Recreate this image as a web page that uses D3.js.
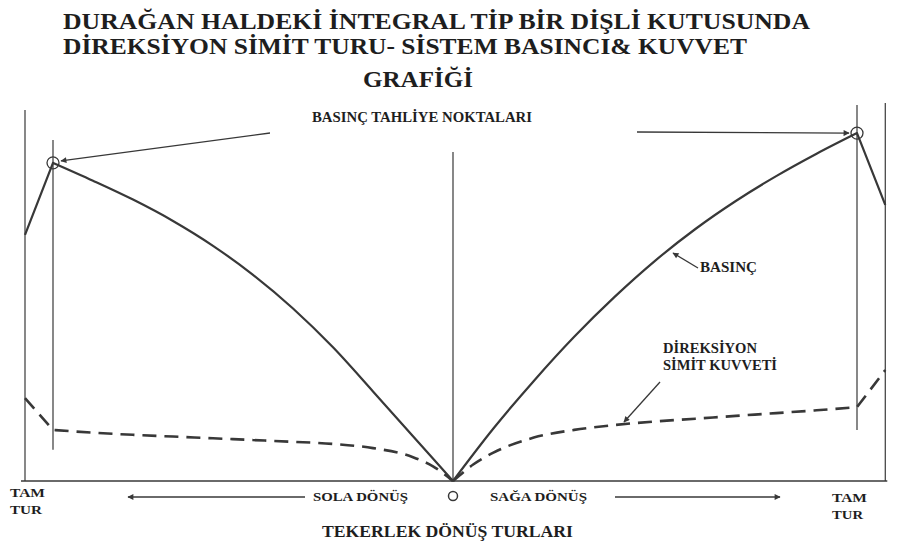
<!DOCTYPE html>
<html>
<head>
    <meta charset="utf-8">
    <title>Direksiyon simit turu - sistem basıncı & kuvvet</title>
    <script src="https://d3js.org/d3.v7.min.js"></script>
    <style>
        body { margin: 0; background: #fff; }
        svg text { font-family: "Liberation Serif", "Times New Roman", serif; font-weight: bold; fill: #1e1e1e; }
    </style>
</head>
<body>
<svg id="chart" width="904" height="548"></svg>
<script>
    // steering wheel turns (left = negative) and readings, 0-100 scale
    const leftTurns = [-1.07, -1, -0.9, -0.8, -0.7, -0.6, -0.5, -0.4, -0.3, -0.2, -0.1, 0];
    const leftPressure = [70.3, 90.9, 85.8, 80.4, 74.3, 67.2, 58.9, 49.3, 38.2, 25.6, 12.8, 0];
    const rightTurns = [0, 0.1, 0.2, 0.3, 0.4, 0.5, 0.6, 0.7, 0.8, 0.9, 1, 1.07];
    const rightPressure = [0, 15.0, 28.6, 41.2, 52.6, 62.9, 72.0, 80.0, 87.1, 93.5, 99.4, 78.9];

    const leftForceTurns = [-1.07, -1, -0.9, -0.8, -0.7, -0.6, -0.5, -0.4, -0.3, -0.2, -0.1, -0.05, 0];
    const leftForce = [23.7, 14.6, 13.8, 13.2, 12.7, 12.2, 11.7, 11.2, 10.6, 9.4, 6.8, 4.2, 0];
    const rightForceTurns = [0, 0.05, 0.1, 0.2, 0.3, 0.4, 0.5, 0.6, 0.7, 0.8, 0.9, 1, 1.07];
    const rightForce = [0, 4.7, 8.1, 12.4, 14.6, 16.0, 17.0, 17.8, 18.6, 19.4, 20.2, 21.1, 31.7];

    // relief points (pressure peaks)
    const reliefTurns = [-1, 1];
    const reliefPressure = [90.9, 99.4];

    // vertical guide lines
    const guideTurns = [-1.07, -1, 0, 1, 1.07];
    const guideTop = [106, 97.4, 94, 107.4, 108];
    const guideBottom = [0, 8.9, 0, 14.6, 0];

    const titleLines = [
        "DURAĞAN HALDEKİ İNTEGRAL TİP BİR DİŞLİ KUTUSUNDA",
        "DİREKSİYON SİMİT TURU- SİSTEM BASINCI& KUVVET",
        "GRAFİĞİ"
    ];

    const svg = d3.select("#chart");
    const ink = "#383838";

    const x = d3.scaleLinear().domain([-1, 0, 1]).range([53, 453, 857]);
    const y = d3.scaleLinear().domain([0, 100]).range([481, 131]);

    svg.append("defs").append("marker")
        .attr("id", "head")
        .attr("viewBox", "0 0 10 10")
        .attr("refX", 9).attr("refY", 5)
        .attr("markerWidth", 8).attr("markerHeight", 6)
        .attr("markerUnits", "userSpaceOnUse")
        .attr("orient", "auto")
        .append("path")
        .attr("d", "M0,0L10,5L0,10Z")
        .attr("fill", ink);

    // title
    const titleX = [63, 63, 363];
    const titleY = [29, 54, 87];
    const titleW = [747, 684, 110];
    svg.selectAll(".title")
        .data(titleLines)
        .enter().append("text")
        .attr("class", "title")
        .attr("x", (d, i) => titleX[i])
        .attr("y", (d, i) => titleY[i])
        .attr("textLength", (d, i) => titleW[i])
        .attr("lengthAdjust", "spacingAndGlyphs")
        .style("font-size", "24px")
        .text(d => d);

    // baseline
    svg.append("line")
        .attr("x1", x(-1.07) - 4).attr("x2", x(1.07) + 2)
        .attr("y1", y(0)).attr("y2", y(0))
        .attr("stroke", ink).attr("stroke-width", 1.6);

    // guides
    svg.selectAll(".guide")
        .data(guideTurns)
        .enter().append("line")
        .attr("class", "guide")
        .attr("x1", d => x(d)).attr("x2", d => x(d))
        .attr("y1", (d, i) => y(guideTop[i]))
        .attr("y2", (d, i) => y(guideBottom[i]))
        .attr("stroke", ink).attr("stroke-width", 1.2);

    // outer segment straight, rest smooth
    function sidePath(turns, vals) {
        const pts = turns.map((t, i) => [x(t), y(vals[i])]);
        const outer = turns[0] < 0 ? pts[0] : pts[pts.length - 1];
        const inner = turns[0] < 0 ? pts.slice(1) : pts.slice(0, -1);
        const curve = d3.line().curve(d3.curveMonotoneX)(inner);
        if (turns[0] < 0) return "M" + outer[0] + "," + outer[1] + "L" + curve.slice(1);
        return curve + "L" + outer[0] + "," + outer[1];
    }

    // pressure
    [[leftTurns, leftPressure], [rightTurns, rightPressure]].forEach(s => {
        svg.append("path")
            .attr("d", sidePath(s[0], s[1]))
            .attr("fill", "none")
            .attr("stroke", ink)
            .attr("stroke-width", 2.2)
            .attr("stroke-linejoin", "round");
    });

    // steering wheel force
    [[leftForceTurns, leftForce], [rightForceTurns, rightForce]].forEach(s => {
        svg.append("path")
            .attr("d", sidePath(s[0], s[1]))
            .attr("fill", "none")
            .attr("stroke", ink)
            .attr("stroke-width", 2.6)
            .attr("stroke-dasharray", "14,8");
    });

    // relief points
    svg.selectAll(".relief")
        .data(reliefTurns)
        .enter().append("circle")
        .attr("cx", d => x(d))
        .attr("cy", (d, i) => y(reliefPressure[i]))
        .attr("r", 6)
        .attr("fill", "none")
        .attr("stroke", ink)
        .attr("stroke-width", 1.3);

    svg.append("circle")
        .attr("cx", x(0)).attr("cy", 496).attr("r", 4.5)
        .attr("fill", "none").attr("stroke", ink).attr("stroke-width", 1.5);

    function arrow(x1, y1, x2, y2) {
        svg.append("line")
            .attr("x1", x1).attr("y1", y1).attr("x2", x2).attr("y2", y2)
            .attr("stroke", ink).attr("stroke-width", 1.3)
            .attr("marker-end", "url(#head)");
    }

    function label(txt, lx, ly, size, w) {
        const t = svg.append("text")
            .attr("x", lx).attr("y", ly)
            .style("font-size", size + "px")
            .text(txt);
        if (w) t.attr("textLength", w).attr("lengthAdjust", "spacingAndGlyphs");
        return t;
    }

    // annotations
    label("BASINÇ TAHLİYE NOKTALARI", 312, 122, 14, 220);
    arrow(270, 133, x(-1) + 8, y(reliefPressure[0]) - 2);
    arrow(637, 132, x(1) - 8, y(reliefPressure[1]));

    label("BASINÇ", 700, 272, 14, 57);
    arrow(698, 268, 673, 253);

    label("DİREKSİYON", 663, 353, 14, 94);
    label("SİMİT KUVVETİ", 663, 370, 14, 114);
    arrow(660, 382, 624, 422);

    // bottom axis texts
    label("TAM", 10, 497, 13, 35);
    label("TUR", 10, 514, 13, 32);
    label("TAM", 832, 502, 13, 35);
    label("TUR", 832, 519, 13, 31);

    label("SOLA DÖNÜŞ", 313, 501, 13, 95);
    arrow(305, 497, 128, 497);
    label("SAĞA DÖNÜŞ", 490, 501, 13, 97);
    arrow(615, 497, 780, 497);

    label("TEKERLEK DÖNÜŞ TURLARI", 322, 537, 17, 251);
</script>
</body>
</html>
